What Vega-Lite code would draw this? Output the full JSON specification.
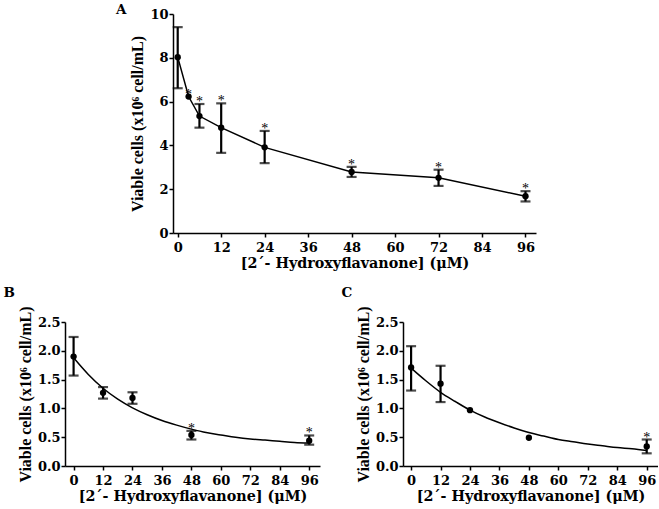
{
  "$schema": "https://vega.github.io/schema/vega-lite/v6.json",
  "background": "white",
  "padding": {"left": 3, "top": 2, "right": 0, "bottom": 0},
  "config": {
    "view": {"stroke": null},
    "axis": {
      "grid": false,
      "domainColor": "black",
      "domainWidth": 1.5,
      "tickColor": "black",
      "tickWidth": 1.5,
      "tickSize": 4,
      "labelFont": "DejaVu Serif",
      "labelFontWeight": "bold",
      "labelFontSize": 13,
      "labelColor": "black",
      "labelOverlap": false,
      "titleFont": "Liberation Serif",
      "titleFontWeight": "bold",
      "titleFontSize": 16,
      "titleColor": "black"
    },
    "axisX": {"titleFont": "DejaVu Serif", "titleFontSize": 14.3, "titlePadding": 2, "labelPadding": 4},
    "axisY": {"labelPadding": 1, "titlePadding": 4},
    "title": {"font": "DejaVu Serif", "fontWeight": "bold", "fontSize": 13.5, "color": "black", "anchor": "start"}
  },
  "datasets": {
    "a": [
      {"conc": 0, "mean": 8.03, "lo": 6.61, "hi": 9.40, "sig": ""},
      {"conc": 3, "mean": 6.23, "lo": 6.23, "hi": 6.23, "sig": "*"},
      {"conc": 6, "mean": 5.34, "lo": 4.81, "hi": 5.89, "sig": "*"},
      {"conc": 12, "mean": 4.81, "lo": 3.66, "hi": 5.92, "sig": "*"},
      {"conc": 24, "mean": 3.91, "lo": 3.19, "hi": 4.66, "sig": "*"},
      {"conc": 48, "mean": 2.79, "lo": 2.56, "hi": 3.02, "sig": "*"},
      {"conc": 72, "mean": 2.52, "lo": 2.15, "hi": 2.89, "sig": "*"},
      {"conc": 96, "mean": 1.68, "lo": 1.44, "hi": 1.91, "sig": "*"}
    ],
    "b": [
      {"conc": 0, "mean": 1.90, "lo": 1.57, "hi": 2.24, "sig": ""},
      {"conc": 12, "mean": 1.27, "lo": 1.17, "hi": 1.37, "sig": ""},
      {"conc": 24, "mean": 1.18, "lo": 1.08, "hi": 1.28, "sig": ""},
      {"conc": 48, "mean": 0.54, "lo": 0.46, "hi": 0.61, "sig": "*"},
      {"conc": 96, "mean": 0.44, "lo": 0.37, "hi": 0.53, "sig": "*"}
    ],
    "c": [
      {"conc": 0, "mean": 1.71, "lo": 1.31, "hi": 2.08, "sig": ""},
      {"conc": 12, "mean": 1.43, "lo": 1.11, "hi": 1.74, "sig": ""},
      {"conc": 24, "mean": 0.97, "lo": 0.97, "hi": 0.97, "sig": ""},
      {"conc": 48, "mean": 0.49, "lo": 0.49, "hi": 0.49, "sig": ""},
      {"conc": 96, "mean": 0.34, "lo": 0.22, "hi": 0.46, "sig": "*"}
    ],
    "bfit": [
      {"conc": 0, "fit": 1.88}, {"conc": 6, "fit": 1.59}, {"conc": 12, "fit": 1.35},
      {"conc": 18, "fit": 1.16}, {"conc": 24, "fit": 1.01}, {"conc": 30, "fit": 0.89},
      {"conc": 36, "fit": 0.79}, {"conc": 42, "fit": 0.71}, {"conc": 48, "fit": 0.64},
      {"conc": 54, "fit": 0.58}, {"conc": 60, "fit": 0.54}, {"conc": 66, "fit": 0.50},
      {"conc": 72, "fit": 0.47}, {"conc": 78, "fit": 0.45}, {"conc": 84, "fit": 0.43},
      {"conc": 90, "fit": 0.41}, {"conc": 96, "fit": 0.40}
    ],
    "cfit": [
      {"conc": 0, "fit": 1.70}, {"conc": 6, "fit": 1.48}, {"conc": 12, "fit": 1.28},
      {"conc": 18, "fit": 1.12}, {"conc": 24, "fit": 0.97}, {"conc": 30, "fit": 0.85},
      {"conc": 36, "fit": 0.75}, {"conc": 42, "fit": 0.66}, {"conc": 48, "fit": 0.58},
      {"conc": 54, "fit": 0.52}, {"conc": 60, "fit": 0.46}, {"conc": 66, "fit": 0.42},
      {"conc": 72, "fit": 0.38}, {"conc": 78, "fit": 0.35}, {"conc": 84, "fit": 0.32},
      {"conc": 90, "fit": 0.30}, {"conc": 96, "fit": 0.27}
    ]
  },
  "center": true,
  "spacing": 15,
  "vconcat": [
    {
      "title": {"text": "A", "offset": -8, "dx": -14},
      "width": 363,
      "height": 219,
      "data": {"name": "a"},
      "resolve": {"axis": {"y": "independent"}},
      "encoding": {
        "x": {"field": "conc", "type": "quantitative", "scale": {"domain": [-1.3, 98.9], "nice": false, "zero": false},
              "axis": {"values": [0, 12, 24, 36, 48, 60, 72, 84, 96], "title": "[2´- Hydroxyflavanone] (μM)"}}
      },
      "layer": [
        {"mark": {"type": "line", "color": "black", "strokeWidth": 1.5},
         "encoding": {"y": {"field": "mean", "type": "quantitative", "scale": {"domain": [0, 10], "nice": false}, "axis": {"values": [0, 2, 4, 6, 8, 10], "labelOverlap": false, "title": "Viable cells (x10⁶ cell/mL)"}}}},
        {"transform": [{"filter": "datum.hi > datum.lo"}],
         "mark": {"type": "errorbar", "ticks": true, "size": 10, "thickness": 2.2, "color": "black"},
         "encoding": {"y": {"field": "lo", "type": "quantitative", "scale": {"domain": [0, 10], "nice": false}, "axis": null}, "y2": {"field": "hi"}}},
        {"mark": {"type": "point", "filled": true, "color": "black", "opacity": 1, "size": 40},
         "encoding": {"y": {"field": "mean", "type": "quantitative", "scale": {"domain": [0, 10], "nice": false}, "axis": null}}},
        {"mark": {"type": "text", "font": "Liberation Serif", "fontSize": 14, "color": "black", "dy": 2, "baseline": "alphabetic"},
         "encoding": {"y": {"field": "hi", "type": "quantitative", "scale": {"domain": [0, 10], "nice": false},
                            "axis": {"orient": "right", "domain": false, "labels": false, "ticks": true, "tickSize": 14, "tickOpacity": 0, "values": [0], "title": null}},
                      "text": {"field": "sig"}}}
      ]
    },
    {
      "spacing": 21,
      "hconcat": [
        {
          "title": {"text": "B", "offset": 6, "dx": -14},
          "width": 255,
          "height": 144,
          "resolve": {"axis": {"y": "independent"}},
          "encoding": {
            "x": {"field": "conc", "type": "quantitative", "scale": {"domain": [-3.5, 100.4], "nice": false, "zero": false},
                  "axis": {"values": [0, 12, 24, 36, 48, 60, 72, 84, 96], "title": "[2´- Hydroxyflavanone] (μM)"}}
          },
          "layer": [
            {"data": {"name": "bfit"},
             "mark": {"type": "line", "color": "black", "strokeWidth": 1.5, "interpolate": "monotone"},
             "encoding": {"y": {"field": "fit", "type": "quantitative", "scale": {"domain": [0, 2.5], "nice": false}, "axis": {"values": [0, 0.5, 1, 1.5, 2, 2.5], "format": ".1f", "labelOverlap": false, "title": "Viable cells (x10⁶ cell/mL)"}}}},
            {"data": {"name": "b"},
             "transform": [{"filter": "datum.hi > datum.lo"}],
             "mark": {"type": "errorbar", "ticks": true, "size": 10, "thickness": 2.2, "color": "black"},
             "encoding": {"y": {"field": "lo", "type": "quantitative", "scale": {"domain": [0, 2.5], "nice": false}, "axis": null}, "y2": {"field": "hi"}}},
            {"data": {"name": "b"},
             "mark": {"type": "point", "filled": true, "color": "black", "opacity": 1, "size": 40},
             "encoding": {"y": {"field": "mean", "type": "quantitative", "scale": {"domain": [0, 2.5], "nice": false}, "axis": null}}},
            {"data": {"name": "b"},
             "mark": {"type": "text", "font": "Liberation Serif", "fontSize": 14, "color": "black", "dy": 2, "baseline": "alphabetic"},
             "encoding": {"y": {"field": "hi", "type": "quantitative", "scale": {"domain": [0, 2.5], "nice": false}, "axis": null}, "text": {"field": "sig"}}}
          ]
        },
        {
          "title": {"text": "C", "offset": 6, "dx": -14},
          "width": 255,
          "height": 144,
          "resolve": {"axis": {"y": "independent"}},
          "encoding": {
            "x": {"field": "conc", "type": "quantitative", "scale": {"domain": [-3.3, 100.6], "nice": false, "zero": false},
                  "axis": {"values": [0, 12, 24, 36, 48, 60, 72, 84, 96], "title": "[2´- Hydroxyflavanone] (μM)"}}
          },
          "layer": [
            {"data": {"name": "cfit"},
             "mark": {"type": "line", "color": "black", "strokeWidth": 1.5, "interpolate": "monotone"},
             "encoding": {"y": {"field": "fit", "type": "quantitative", "scale": {"domain": [0, 2.5], "nice": false}, "axis": {"values": [0, 0.5, 1, 1.5, 2, 2.5], "format": ".1f", "labelOverlap": false, "title": "Viable cells (x10⁶ cell/mL)"}}}},
            {"data": {"name": "c"},
             "transform": [{"filter": "datum.hi > datum.lo"}],
             "mark": {"type": "errorbar", "ticks": true, "size": 10, "thickness": 2.2, "color": "black"},
             "encoding": {"y": {"field": "lo", "type": "quantitative", "scale": {"domain": [0, 2.5], "nice": false}, "axis": null}, "y2": {"field": "hi"}}},
            {"data": {"name": "c"},
             "mark": {"type": "point", "filled": true, "color": "black", "opacity": 1, "size": 40},
             "encoding": {"y": {"field": "mean", "type": "quantitative", "scale": {"domain": [0, 2.5], "nice": false}, "axis": null}}},
            {"data": {"name": "c"},
             "mark": {"type": "text", "font": "Liberation Serif", "fontSize": 14, "color": "black", "dy": 2, "baseline": "alphabetic"},
             "encoding": {"y": {"field": "hi", "type": "quantitative", "scale": {"domain": [0, 2.5], "nice": false}, "axis": null}, "text": {"field": "sig"}}}
          ]
        }
      ]
    }
  ]
}
